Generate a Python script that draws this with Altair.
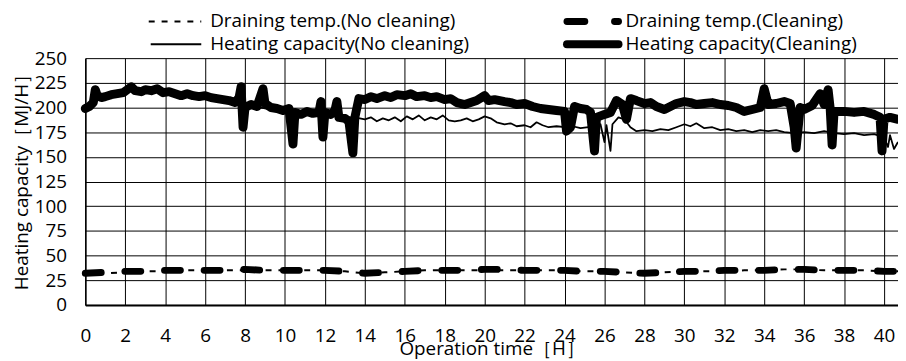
import altair as alt
import pandas as pd

# ---------------- data ----------------
clean_h = [0.0, 0.2, 0.4, 0.5, 0.6, 0.8, 1.0, 1.3, 1.6, 1.9, 2.1, 2.3, 2.5, 2.8, 3.0, 3.3, 3.6, 3.9,
           4.2, 4.5, 4.8, 5.1, 5.4, 5.7, 6.0, 6.3, 6.6, 6.9, 7.2, 7.5, 7.7, 7.8, 7.9, 8.0, 8.3, 8.6,
           8.9, 9.0, 9.3, 9.6, 9.9, 10.2, 10.4, 10.5, 10.8, 11.1, 11.4, 11.7, 11.8, 11.9, 12.0, 12.3,
           12.5, 12.6, 12.7, 13.0, 13.2, 13.4, 13.5, 13.7, 14.0, 14.3, 14.6, 15.0, 15.3, 15.6, 16.0,
           16.3, 16.6, 17.0, 17.3, 17.6, 18.0, 18.3, 18.6, 19.0, 19.3, 19.6, 20.0, 20.2, 20.5, 21.0,
           21.3, 21.6, 22.0, 22.4, 22.8, 23.2, 23.6, 24.0, 24.1, 24.3, 24.5, 24.8, 25.1, 25.3, 25.5,
           25.6, 26.0, 26.3, 26.6, 26.9, 27.1, 27.3, 27.6, 28.0, 28.3, 28.6, 29.0, 29.3, 29.6, 30.0,
           30.3, 30.6, 31.0, 31.4, 31.8, 32.2, 32.6, 33.0, 33.4, 33.8, 34.0, 34.2, 34.6, 35.0, 35.3,
           35.5, 35.6, 35.8, 36.0, 36.4, 36.8, 37.0, 37.2, 37.3, 37.4, 37.5, 38.0, 38.5, 39.0, 39.5,
           39.8, 39.9, 40.0, 40.3, 40.7]
clean_cap = [199, 201, 205, 218, 212, 210, 211, 213, 214, 215, 218, 221, 217, 216, 218, 217, 219, 215,
             216, 214, 212, 214, 212, 211, 212, 210, 209, 208, 207, 205, 210, 221, 180, 200, 203, 201,
             219, 204, 200, 199, 197, 199, 163, 195, 193, 196, 194, 195, 206, 170, 195, 193,
             197, 206, 190, 189, 186, 154, 190, 209, 208, 211, 209, 212, 210, 213, 212,
             214, 211, 212, 210, 211, 208, 209, 205, 203, 205, 207, 212, 207, 208, 206,
             205, 203, 204, 201, 199, 198, 197, 196, 176, 180, 201, 199, 198, 195, 156,
             190, 193, 195, 207, 203, 188, 209, 207, 204, 205, 201, 198, 201, 204, 206,
             205, 203, 204, 205, 203, 202, 200, 196, 198, 200, 219, 203, 204, 206, 204,
             180, 159, 200, 198, 202, 214, 203, 218, 200, 162, 196, 196, 195, 196, 193,
             190, 156, 188, 190, 188]

noclean_h = [0.0, 0.4, 0.5, 0.8, 1.2, 1.6, 2.0, 2.3, 2.7, 3.0, 3.5, 4.0, 4.5, 5.0, 5.5, 6.0, 6.5, 7.0,
             7.5, 8.0, 8.5, 9.0, 9.5, 10.0, 10.5, 11.0, 11.5, 12.0, 12.5, 13.0, 13.5, 14.0, 14.3,
             14.6, 14.9, 15.2, 15.5, 15.8, 16.1, 16.4, 16.7, 17.0, 17.3, 17.6, 17.9, 18.2, 18.5,
             18.8, 19.1, 19.4, 19.7, 20.0, 20.3, 20.6, 21.0, 21.3, 21.6, 22.0, 22.3, 22.6, 22.9,
             23.2, 23.6, 24.0, 24.4, 24.8, 25.2, 25.5, 25.8, 26.0, 26.1, 26.3, 26.4, 26.7, 27.0,
             27.3, 27.6, 28.0, 28.4, 28.8, 29.2, 29.6, 30.0, 30.3, 30.6, 31.0, 31.4, 31.8, 32.2,
             32.6, 33.0, 33.4, 33.8, 34.2, 34.6, 35.0, 35.5, 36.0, 36.5, 37.0, 37.5, 38.0, 38.5,
             39.0, 39.5, 40.0, 40.2, 40.3, 40.5, 40.7]
noclean_cap = [200, 204, 215, 209, 211, 213, 215, 219, 215, 217, 217, 214, 213, 212, 211, 210, 208, 207,
               205, 201, 201, 199, 198, 196, 195, 194, 193, 193, 192, 190, 190, 188, 190,
               186, 189, 187, 190, 186, 191, 188, 192, 187, 190, 188, 192, 187, 186,
               187, 189, 186, 188, 191, 189, 185, 183, 184, 181, 182, 180, 185, 182,
               180, 181, 180, 181, 179, 180, 180, 183, 165, 182, 156, 183, 190, 188,
               180, 176, 177, 176, 178, 177, 180, 183, 181, 184, 179, 180, 177, 178,
               176, 177, 175, 177, 176, 177, 175, 174, 175, 174, 176, 174, 173, 174,
               172, 173, 170, 160, 172, 158, 165]

drain_h = [0, 1, 2, 3, 4, 5, 6, 7, 8, 9, 10, 11, 12, 13, 14, 15, 16, 17, 18, 19, 20, 21, 22, 23, 24,
           25, 26, 27, 28, 29, 30, 31, 32, 33, 34, 35, 36, 37, 38, 39, 40, 40.7]
drain_noclean = [31, 32, 33, 34, 34, 35, 35, 35, 35, 35, 35, 35, 35, 34, 32, 33, 34, 35, 35, 35, 35,
                 35, 35, 35, 35, 34, 34, 33, 32, 33, 34, 34, 34, 35, 35, 36, 36, 35, 35, 35, 34, 34]
drain_clean = [32, 33, 34, 34, 35, 35, 35, 35, 36, 35, 35, 35, 35, 34, 32, 33, 34, 35, 35, 35, 36,
               36, 35, 35, 35, 34, 34, 33, 32, 33, 34, 34, 35, 35, 35, 36, 36, 35, 35, 35, 34, 34]

x_ticks = list(range(0, 41, 2))
y_ticks = list(range(0, 251, 25))

labels = ["Draining temp.(No cleaning)", "Draining temp.(Cleaning)",
          "Heating capacity(No cleaning)", "Heating capacity(Cleaning)"]

FONT = "Open Sans"
FS = 19

x_enc = alt.X("h:Q",
              scale=alt.Scale(domain=[0, 40.7], nice=False, zero=False),
              axis=alt.Axis(values=x_ticks, title="Operation time［H］",
                            grid=True, gridColor="black", gridWidth=1, gridOpacity=1,
                            domainColor="black", domainWidth=2, ticks=False, tickSize=0,
                            labelFont=FONT, labelFontSize=FS, labelColor="black",
                            labelPadding=22, labelFlush=False,
                            titleFont=FONT, titleFontSize=FS, titleFontWeight="normal",
                            titleColor="black", titleY=50, titleBaseline="alphabetic"))
y_enc = alt.Y("v:Q",
              scale=alt.Scale(domain=[0, 250], nice=False),
              axis=alt.Axis(values=y_ticks, title="Heating capacity［MJ/H］",
                            grid=True, gridColor="black", gridWidth=1, gridOpacity=1,
                            domainColor="black", domainWidth=1.5, ticks=False, tickSize=0,
                            labelFont=FONT, labelFontSize=FS, labelColor="black",
                            labelPadding=19, labelFlush=False,
                            titleFont=FONT, titleFontSize=FS, titleFontWeight="normal",
                            titleColor="black", titleAngle=270, titleAlign="center",
                            titleBaseline="alphabetic", titleX=-58, titleY=120))

df_clean = pd.DataFrame({"h": clean_h, "v": clean_cap})
df_noclean = pd.DataFrame({"h": noclean_h, "v": noclean_cap})
df_dn = pd.DataFrame({"h": drain_h, "v": drain_noclean})
df_dc = pd.DataFrame({"h": drain_h, "v": drain_clean})

cap_clean_line = alt.Chart(df_clean).mark_line(
    color="black", strokeWidth=9, strokeJoin="round", strokeCap="round"
).encode(x=x_enc, y=y_enc)
cap_noclean_line = alt.Chart(df_noclean).mark_line(
    color="black", strokeWidth=1.8, strokeJoin="round"
).encode(x=x_enc, y=y_enc)
drain_clean_line = alt.Chart(df_dc).mark_line(
    color="black", strokeWidth=7, strokeDash=[16, 24], strokeCap="round"
).encode(x=x_enc, y=y_enc)
drain_noclean_line = alt.Chart(df_dn).mark_line(
    color="black", strokeWidth=2, strokeDash=[6, 7]
).encode(x=x_enc, y=y_enc)

# ---------------- manual legend (layout in pixels, relative to plot origin) ----------------
legend_specs = [
    # label, x1, x2, y, width, dash, cap, text x
    (labels[0], 64, 117, -37, 2, [6, 7], "butt", 126),
    (labels[1], 486, 538, -37, 7, [18, 30], "round", 545),
    (labels[2], 66, 117, -14, 1.8, None, "butt", 126),
    (labels[3], 486, 538, -14, 8, None, "round", 545),
]
legend_layers = []
one = alt.Data(values=[{}])
for lab, x1, x2, yy, sw, dash, cap, tx in legend_specs:
    kw = dict(color="black", strokeWidth=sw, strokeCap=cap)
    if dash is not None:
        kw["strokeDash"] = dash
    legend_layers.append(
        alt.Chart(one).mark_rule(**kw).encode(
            x=alt.value(x1), x2=alt.value(x2), y=alt.value(yy)))
    legend_layers.append(
        alt.Chart(one).mark_text(align="left", baseline="middle", font=FONT,
                                 fontSize=FS, color="black").encode(
            x=alt.value(tx), y=alt.value(yy), text=alt.value(lab)))

chart = alt.layer(
    cap_clean_line, cap_noclean_line, drain_clean_line, drain_noclean_line, *legend_layers
).properties(
    width=820, height=249,
    autosize=alt.AutoSizeParams(type="none"),
    padding={"left": 78, "top": 49, "right": 0, "bottom": 54},
    background="white",
).configure_view(strokeWidth=0)

chart.save("out.html", embed_options={"renderer": "svg", "actions": False})
